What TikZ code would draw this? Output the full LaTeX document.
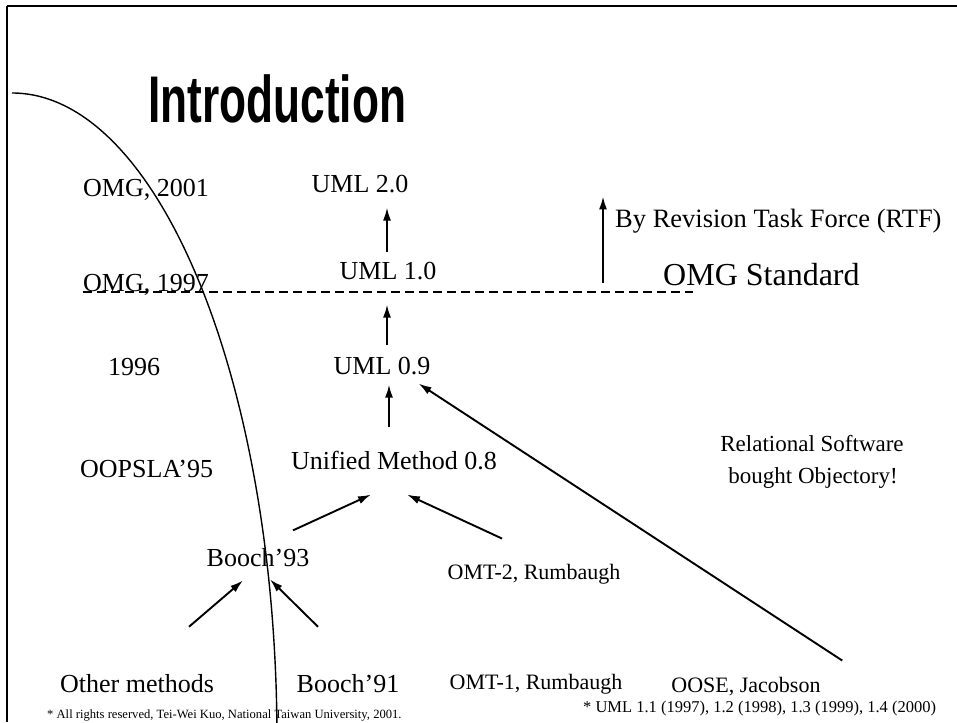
\documentclass[tikz,border=0pt]{standalone}
\usepackage{fontspec}
\setmainfont{Liberation Serif}
\newfontfamily\titlefont{Liberation Sans}
\usetikzlibrary{arrows.meta}
\begin{document}
\begin{tikzpicture}[x=1pt,y=-1pt,
  txt/.style={anchor=base,inner sep=0pt,font=\fontsize{26}{30}\selectfont},
  midtxt/.style={anchor=base,inner sep=0pt,font=\fontsize{23}{27}\selectfont},
  smalltxt/.style={anchor=base,inner sep=0pt,font=\fontsize{22}{26}\selectfont},
  arr/.style={line width=1.9pt,-{Latex[length=13pt,width=8pt]}},
  frame/.style={line width=1.8pt},
  curve/.style={line width=1.4pt},
  stdline/.style={line width=1.3pt,dash pattern=on 9pt off 5pt}]
\useasboundingbox (0,0) rectangle (957,722);
\fill[white] (0,0) rectangle (957,722);
% frame
\draw[frame] (7,6) -- (957,6);
\draw[frame] (7,6) -- (7,722);
% title
\node[anchor=base west,inner sep=0pt,xscale=0.67,font=\titlefont\bfseries\fontsize{66}{72}\selectfont] (title) at (148,123) {Introduction};
% left column
\node[txt,anchor=base west] (omg01) at (83,196) {OMG, 2001};
\node[txt,anchor=base west] (omg97) at (83,291) {OMG, 1997};
\node[txt] (y96) at (134,375) {1996};
\node[txt,anchor=base west] (oopsla) at (80,477) {OOPSLA’95};
% centre column
\node[txt] (uml20) at (360,192) {UML 2.0};
\node[txt] (uml10) at (388,279) {UML 1.0};
\node[txt] (uml09) at (382,374) {UML 0.9};
\node[txt] (unified) at (394,469) {Unified Method 0.8};
\node[txt] (booch93) at (258,566) {Booch’93};
\node[smalltxt] (omt2) at (534,579) {OMT-2, Rumbaugh};
% bottom row
\node[txt] (other) at (137,692) {Other methods};
\node[txt] (booch91) at (348,692) {Booch’91};
\node[smalltxt] (omt1) at (536,689) {OMT-1, Rumbaugh};
\node[smalltxt] (oose) at (746,692) {OOSE, Jacobson};
% right side
\node[anchor=base west,inner sep=0pt,font=\fontsize{26.5}{30}\selectfont] (rtf) at (615,227) {By Revision Task Force (RTF)};
\node[anchor=base west,inner sep=0pt,font=\fontsize{32}{36}\selectfont] (omgstd) at (663,285) {OMG Standard};
\node[midtxt] (rel1) at (812,451) {Relational Software};
\node[midtxt] (rel2) at (813,483) {bought Objectory!};
% footnotes
\node[anchor=base west,inner sep=0pt,font=\fontsize{12.6}{14}\selectfont] (foot1) at (47,718) {* All rights reserved, Tei-Wei Kuo, National Taiwan University, 2001.};
\node[anchor=base west,inner sep=0pt,font=\fontsize{16.5}{19}\selectfont] (foot2) at (583,712) {* UML 1.1 (1997), 1.2 (1998), 1.3 (1999), 1.4 (2000)};
% dashed OMG standard line
\draw[stdline] ([yshift=-1pt]omg97.base west) -- ([xshift=30pt,yshift=-7pt]omgstd.base west);
% curve
\draw[curve] (12,93) .. controls (158.4,93) and (277,382.7) .. (277,740);
% arrows
\draw[arr] ([xshift=-1pt,yshift=9.4pt]uml10.north) -- ([xshift=27pt,yshift=-15pt]uml20.south);
\coordinate (rtfbot) at (603,283);
\draw[arr] (rtfbot) -- ([xshift=-12pt,yshift=12pt]rtf.north west);
\draw[arr] ([xshift=5pt,yshift=11.4pt]uml09.north) -- ([xshift=-1pt,yshift=-25pt]uml10.south);
\draw[arr] ([xshift=-5pt,yshift=23pt]unified.north) -- ([xshift=7pt,yshift=-10pt]uml09.south);
\draw[arr] ([xshift=21.5pt,yshift=16pt]oose.north east) -- ([xshift=-12pt,yshift=-9pt]uml09.south east);
\draw[arr] ([xshift=35pt,yshift=17.4pt]booch93.north) -- ([xshift=-23pt,yshift=-25pt]unified.south);
\draw[arr] ([xshift=-32pt,yshift=25pt]omt2.north) -- ([xshift=13pt,yshift=-25pt]unified.south);
\draw[arr] ([xshift=52pt,yshift=47pt]other.north) -- ([xshift=-15pt,yshift=-14pt]booch93.south);
\draw[arr] ([xshift=-30pt,yshift=47pt]booch91.north) -- ([xshift=12pt,yshift=-13pt]booch93.south);
\end{tikzpicture}
\end{document}
